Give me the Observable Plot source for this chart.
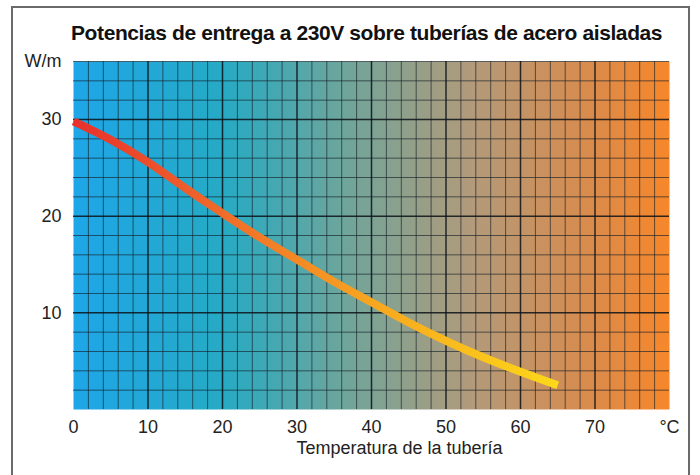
<!DOCTYPE html>
<html>
<head>
<meta charset="utf-8">
<script src="https://cdn.jsdelivr.net/npm/d3@7"></script>
<script src="https://cdn.jsdelivr.net/npm/@observablehq/plot@0.6"></script>
<style>
  html, body { margin: 0; padding: 0; background: #fff; width: 700px; height: 475px; overflow: hidden; }
  #wrap { position: relative; width: 700px; height: 475px; }
  #border { position: absolute; left: 11px; top: 6px; width: 679px; height: 490px; border: 2px solid #6a6a6a; box-sizing: border-box; pointer-events: none; }
  #title { height: 50px; box-sizing: border-box; padding-left: 71px; padding-top: 21px; font-family: "Liberation Sans", Arial, sans-serif; font-weight: bold; font-size: 21px; line-height: 24px; letter-spacing: -0.4px; color: #111; white-space: nowrap; }
  svg { display: block; }
</style>
</head>
<body>
<div id="wrap">
  <div id="title">Potencias de entrega a 230V sobre tuberías de acero aisladas</div>
  <div id="chart"></div>
  <div id="border"></div>
</div>
<script>
// Data
const temperatures = [0, 5, 10, 15, 20, 25, 30, 35, 40, 45, 50, 55, 60, 65];
const power = [29.8, 27.9, 25.6, 22.9, 20.3, 17.8, 15.5, 13.2, 11.1, 9.0, 7.1, 5.4, 3.9, 2.5];
const xTicks = [0, 10, 20, 30, 40, 50, 60, 70, 80];
const xTickLabels = ["0", "10", "20", "30", "40", "50", "60", "70", "°C"];
const yTicks = [10, 20, 30, 36];
const yTickLabels = ["10", "20", "30", "W/m"];
const xDomain = [0, 80];
const yDomain = [0, 36];
const gridStep = 2;
const xLabel = "Temperatura de la tubería";

const data = temperatures.map((t, i) => ({t, p: power[i]}));
const minorX = d3.range(xDomain[0], xDomain[1] + 0.001, gridStep).filter(v => v % 10 !== 0);
const majorX = d3.range(xDomain[0], xDomain[1] + 0.001, 10);
const minorY = d3.range(yDomain[0], yDomain[1] + 0.001, gridStep).filter(v => v % 10 !== 0);
const majorY = d3.range(yDomain[0], yDomain[1] + 0.001, 10);

const font = "Liberation Sans, Arial, sans-serif";

const chart = Plot.plot({
  width: 700,
  height: 425,
  marginLeft: 73,
  marginRight: 31,
  marginTop: 11,
  marginBottom: 66,
  style: {fontFamily: font, fontSize: "18px", color: "#222", background: "transparent", overflow: "visible"},
  x: {domain: xDomain, ticks: xTicks, tickFormat: (d) => xTickLabels[xTicks.indexOf(d)], tickSize: 0, tickPadding: 11, label: null},
  y: {domain: yDomain, ticks: yTicks, tickFormat: (d) => yTickLabels[yTicks.indexOf(d)], tickSize: 0, tickPadding: 12, label: null},
  marks: [
    Plot.frame({fill: "url(#bgGrad)", stroke: null}),
    Plot.gridX(minorX, {stroke: "#16202a", strokeOpacity: 0.65, strokeWidth: 1}),
    Plot.gridY(minorY, {stroke: "#16202a", strokeOpacity: 0.65, strokeWidth: 1}),
    Plot.gridX(majorX.filter(v => v > xDomain[0] && v < xDomain[1]), {stroke: "#0c1218", strokeOpacity: 0.85, strokeWidth: 1.5}),
    Plot.gridY(majorY.filter(v => v > yDomain[0]), {stroke: "#0c1218", strokeOpacity: 0.85, strokeWidth: 1.5}),
    Plot.line(data, {x: "t", y: "p", stroke: "url(#lineGrad)", strokeWidth: 8, curve: "monotone-x", strokeLinecap: "butt"}),
    Plot.text([xLabel], {frameAnchor: "bottom", dy: 44, dx: 28, text: (d) => d, fontSize: 18, fill: "#222"})
  ]
});

// gradient definitions
const svg = d3.select(chart);
const defs = svg.insert("defs", ":first-child");
const bg = defs.append("linearGradient").attr("id", "bgGrad").attr("x1", "0").attr("x2", "1").attr("y1", "0").attr("y2", "0");
[[0, "#1ea6e8"], [0.25, "#26aac4"], [0.46, "#70a59a"], [0.67, "#b39a7a"], [0.87, "#da8b4b"], [1, "#f7872a"]]
  .forEach(([o, c]) => bg.append("stop").attr("offset", o).attr("stop-color", c));
const lg = defs.append("linearGradient").attr("id", "lineGrad").attr("x1", "0").attr("x2", "1").attr("y1", "0").attr("y2", "0");
[[0, "#e8302c"], [0.3, "#f06a2a"], [0.6, "#f7a420"], [1, "#fcd81a"]]
  .forEach(([o, c]) => lg.append("stop").attr("offset", o).attr("stop-color", c));

document.getElementById("chart").appendChild(chart);
</script>
</body>
</html>
